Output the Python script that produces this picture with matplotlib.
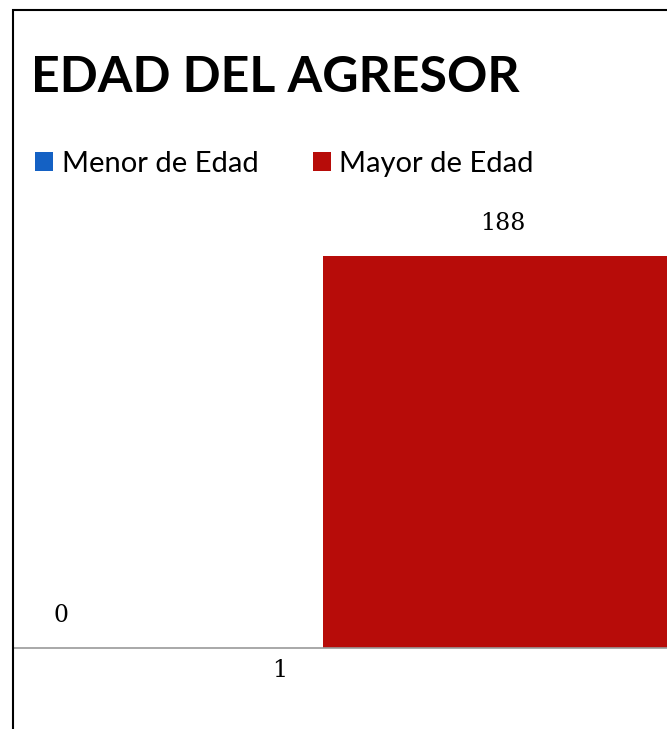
import matplotlib
matplotlib.use("Agg")
import matplotlib.pyplot as plt
from matplotlib.patches import Rectangle
import numpy as np

categories = ["1"]
series_names = ["Menor de Edad", "Mayor de Edad"]
menor = [0]
mayor = [188]
colors = ["#1461C4", "#B70C09"]

W, H = 667, 729
fig = plt.figure(figsize=(W / 100, H / 100), dpi=100)
fig.patch.set_facecolor("white")

def fx(px):
    return px / W

def fy(py):
    return 1 - py / H

ax_left, ax_right, ax_bottom, ax_top = 14, 667, 648, 200
ax = fig.add_axes([fx(ax_left), fy(ax_bottom), fx(ax_right - ax_left), fy(ax_top) - fy(ax_bottom)])

x = np.arange(len(categories))
offset = 0.5
width = 0.807
b1 = ax.bar(x - offset, menor, width, color=colors[0], label=series_names[0])
b2 = ax.bar(x + offset, mayor, width, color=colors[1], label=series_names[1])

# x limits: category center at 280 px, 446 px per unit
ppu = 446.0
cx = 280
ax.set_xlim((ax_left - cx) / ppu, (ax_right - cx) / ppu)
ymax = (ax_bottom - ax_top) / ((ax_bottom - 256) / 188.0)
ax.set_ylim(0, ymax)

for s in ["top", "right", "left"]:
    ax.spines[s].set_visible(False)
ax.spines["bottom"].set_color("#9A9A9A")
ax.spines["bottom"].set_linewidth(1.2)
ax.set_yticks([])
ax.set_xticks(x)
ax.set_xticklabels(categories, fontsize=17, family="DejaVu Serif")
ax.tick_params(axis="x", length=0, pad=8)

b1_list = list(b1)
for rect, v in zip(b1_list + list(b2), menor + mayor):
    xc = rect.get_x() + rect.get_width() / 2
    if rect in b1_list:
        xc = (61 - cx) / ppu
    ax.annotate(str(v), (xc, v), xytext=(0, 15), textcoords="offset points",
                ha="center", va="bottom", fontsize=17, family="DejaVu Serif")

# Title
fig.text(fx(31), fy(77), "EDAD DEL AGRESOR", fontsize=36, fontweight="bold",
         family="Lato", ha="left", va="center")

# Legend
leg = fig.legend(handles=[b1, b2], labels=series_names, loc="center left",
                 bbox_to_anchor=(fx(35), fy(164)), ncol=2, frameon=False,
                 prop={"family": "Lato", "size": 21}, handlelength=0.62,
                 handleheight=0.62, handletextpad=0.3, columnspacing=1.85,
                 borderaxespad=0, borderpad=0)

# Frame border (cropped at right and bottom)
fig.add_artist(Rectangle((fx(13), -0.1), 1.5, fy(10) + 0.1, transform=fig.transFigure,
                         fill=False, edgecolor="black", linewidth=1.5))

fig.savefig("out.png", dpi=100, facecolor="white")
